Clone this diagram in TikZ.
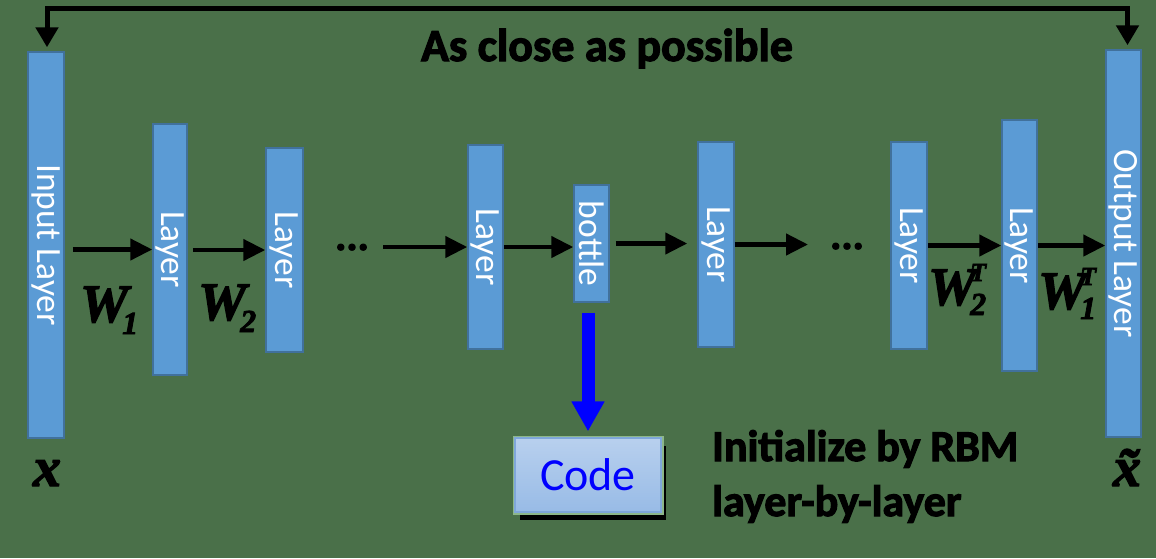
\documentclass[tikz,border=0pt]{standalone}
\usepackage{fontspec}
\setmainfont{Carlito}
\newfontfamily\heavyfont{Carlito}[BoldFeatures={FakeBold=2.5}]
\newfontfamily\mathheavy{Liberation Serif}[BoldItalicFeatures={FakeBold=2.5}]
\usetikzlibrary{arrows.meta,shadows}
\definecolor{bg}{HTML}{4A7049}
\definecolor{boxfill}{HTML}{5B9BD5}
\definecolor{boxedge}{HTML}{41719C}
\definecolor{codetop}{HTML}{B8D0EE}
\definecolor{codebot}{HTML}{98BBE6}
\definecolor{codeedge}{HTML}{7FA7DA}
\definecolor{glow}{HTML}{8DB78A}
\definecolor{codeblue}{HTML}{0000FF}
\newcommand\subl[1]{\kern-6pt\raisebox{-12pt}{\fontsize{32}{32}\selectfont #1}}
\newcommand\supsub[2]{\kern-6pt\rlap{\raisebox{24pt}{\fontsize{26}{26}\selectfont #1}}\raisebox{-10pt}{\fontsize{32}{32}\selectfont #2}}
\tikzset{
  lbox/.style={draw=boxedge, fill=boxfill, line width=1.5pt, inner sep=0pt},
  ltext/.style={rotate=-90, text=white, inner sep=0pt, font=\fontsize{35.5}{35.5}\selectfont},
  arr/.style={-{Triangle[length=22pt,width=21pt]}, line width=4.5pt, black},
  biarr/.style={{Triangle[length=20pt,width=22pt]}-{Triangle[length=20pt,width=22pt]}, line width=5pt, black},
  barr/.style={-{Triangle[length=30pt,width=31pt]}, line width=13pt, codeblue},
  heavy/.style={inner sep=0pt, font=\heavyfont\bfseries\fontsize{#1}{#1}\selectfont},
  wlab/.style={inner sep=0pt, anchor=base west, font=\mathheavy\bfseries\itshape\fontsize{54}{54}\selectfont},
  dots/.style={inner sep=0pt, anchor=base, font=\heavyfont\bfseries\fontsize{42}{42}\selectfont},
  codebox/.style={minimum width=146pt, minimum height=74pt, inner sep=0pt,
    drop shadow={shadow xshift=5pt, shadow yshift=-8pt, fill=black, opacity=1},
    preaction={draw=glow, line width=5pt},
    top color=codetop, bottom color=codebot, draw=codeedge, line width=1.2pt,
    text=codeblue, font=\fontsize{46}{46}\selectfont}
}
\begin{document}
\begin{tikzpicture}[x=1pt,y=1pt]
\fill[bg] (0,0) rectangle (1156,-558);
\useasboundingbox (0,0) rectangle (1156,-558);

% layer boxes
\node[lbox, minimum width=36pt, minimum height=386pt, label={[ltext]center:Input Layer}] (In) at (46,-245) {};
\node[lbox, minimum width=34pt, minimum height=251pt, label={[ltext]center:Layer}] (L1) at (170,-249.5) {};
\node[lbox, minimum width=37pt, minimum height=204pt, label={[ltext]center:Layer}] (L2) at (284.5,-250) {};
\node[lbox, minimum width=35pt, minimum height=204pt, label={[ltext]center:Layer}] (L3) at (485.5,-247) {};
\node[lbox, minimum width=35pt, minimum height=117pt, label={[ltext]center:bottle}] (B) at (591.5,-243.5) {};
\node[lbox, minimum width=36pt, minimum height=205pt, label={[ltext]center:Layer}] (L4) at (716,-244.5) {};
\node[lbox, minimum width=36pt, minimum height=207pt, label={[ltext]center:Layer}] (L5) at (909,-245.5) {};
\node[lbox, minimum width=35pt, minimum height=251pt, label={[ltext]center:Layer}] (L6) at (1019.5,-245.5) {};
\node[lbox, minimum width=35pt, minimum height=387pt, label={[ltext]center:Output Layer}] (Out) at (1123.5,-243.5) {};

% code box
\node[codebox] (Code) at (588,-475) {Code};

% horizontal arrows
\draw[arr, shorten <=8pt] (In.east |- L1.west) -- (L1.west);
\draw[arr, shorten <=5pt] (L1.east |- L2.west) -- (L2.west);
\node[dots] (d1) at (352,-250) {...};
\coordinate (s3) at (383,-247);
\draw[arr] (s3) -- (s3 -| L3.west);
\draw[arr] (L3.east) -- (L3.east -| B.west);
\draw[arr, shorten <=6pt, shorten >=10pt] (B.east) -- (B.east -| L4.west);
\coordinate (e6) at (808,-244);
\draw[arr] (L4.east) -- (L4.east -| e6);
\node[dots] (d2) at (847,-249) {...};
\draw[arr] (L5.east) -- (L5.east -| L6.west);
\draw[arr] (L6.east) -- (L6.east -| Out.west);

% top connector
\coordinate (tl) at (0,-8);
\coordinate (ic) at ([xshift=1pt,yshift=4pt]In.north);
\coordinate (oc) at ([xshift=4pt,yshift=4pt]Out.north);
\draw[biarr] (ic) -- (ic |- tl) -- (oc |- tl) -- (oc);
\node[heavy=46, anchor=base] (title) at (607,-61) {As close as possible};

% blue arrow
\draw[barr, shorten <=10pt, shorten >=6pt] (Code.north |- B.south) -- (Code.north);

% weight labels
\node[wlab] (w1) at (80,-322) {W\subl{1}};
\node[wlab] (w2) at (198,-320) {W\subl{2}};
\node[wlab] (w2t) at (928,-305) {W\supsub{T}{2}};
\node[wlab] (w1t) at (1038,-309) {W\supsub{T}{1}};

% x labels
\node[inner sep=0pt, anchor=base, font=\mathheavy\bfseries\itshape\fontsize{56}{56}\selectfont] (x) at (47,-486) {x};
\node[inner sep=0pt, anchor=base, font=\mathheavy\bfseries\itshape\fontsize{56}{56}\selectfont] (xt) at (1127,-486) {\~{x}};

% initialize text
\node[heavy=44, anchor=base west, align=left, font=\heavyfont\bfseries\fontsize{44}{55}\selectfont] (init) at (712,-516) {Initialize by RBM\\layer-by-layer};
\end{tikzpicture}
\end{document}
